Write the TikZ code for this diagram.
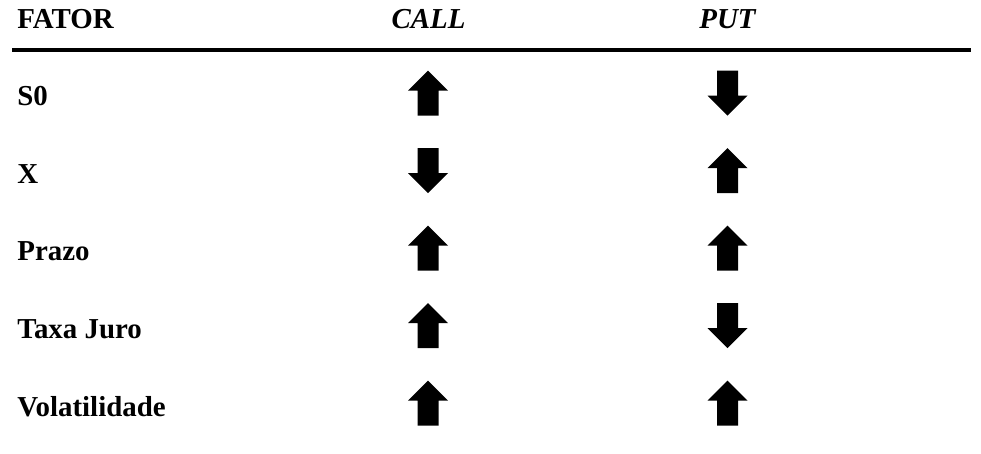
\documentclass[tikz,border=0pt]{standalone}
\usepackage{fontspec}
\setmainfont{Liberation Serif}
\usepackage{tikz}

\tikzset{
  lab/.style={anchor=base west, inner sep=0pt, font=\fontsize{14.45}{16}\selectfont\bfseries},
  head/.style={anchor=base, inner sep=0pt, font=\fontsize{14.45}{16}\selectfont\bfseries\itshape},
  up/.pic={\fill (0,-22.5) -- (20,-2.5) -- (10.5,-2.5) -- (10.5,22.5) -- (-10.5,22.5) -- (-10.5,-2.5) -- (-20,-2.5) -- cycle;},
  down/.pic={\fill (0,22.5) -- (20,2.5) -- (10.5,2.5) -- (10.5,-22.5) -- (-10.5,-22.5) -- (-10.5,2.5) -- (-20,2.5) -- cycle;}
}

\begin{document}
\begin{tikzpicture}[x=0.5pt, y=-0.5pt]
\useasboundingbox (0,0) rectangle (981,454);

\node[lab] (fator) at (17,29) {FATOR};
\node[head] (call) at (428.5,29) {CALL};
\node[head] (put) at (727.5,29) {PUT};
\coordinate (rl) at (12,50);
\coordinate (rr) at (970.7,50);
\draw[line width=2pt] (rl) -- (rr);

\foreach \y/\name/\txt/\c/\p in {106/s0/S0/up/down, 183.5/x/X/down/up, 261/prazo/Prazo/up/up, 338.5/taxa/Taxa Juro/up/down, 416/vol/Volatilidade/up/up}{
  \node[lab] (\name) at (17,\y) {\txt};
  \pic (\name c) at (428,\y-12.8) {\c};
  \pic (\name p) at (727.5,\y-12.8) {\p};
}
\end{tikzpicture}
\end{document}
